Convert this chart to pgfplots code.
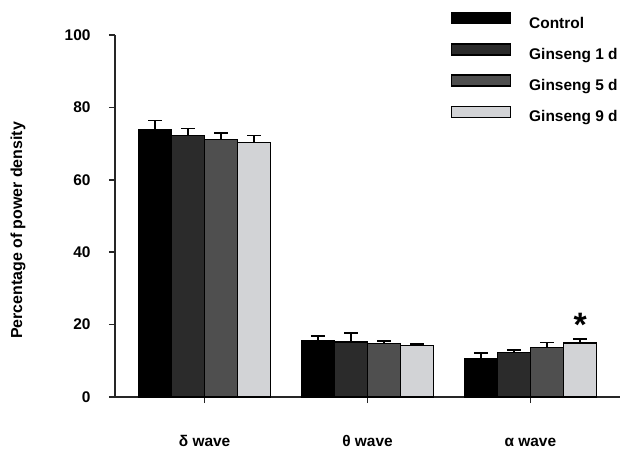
\documentclass[border=0pt]{standalone}
\usepackage{fontspec}
\setmainfont{Liberation Sans}
\usepackage{pgfplots}
\pgfplotsset{compat=1.18}
\definecolor{cA}{HTML}{000000}
\definecolor{cB}{HTML}{2B2B2B}
\definecolor{cC}{HTML}{4F4F4F}
\definecolor{cD}{HTML}{D2D3D6}
\newcommand{\bigf}{\fontsize{15.5}{18}\selectfont\bfseries}
\begin{document}
\begin{tikzpicture}
\begin{axis}[
 scale only axis, width=505bp, height=362bp,
 xmin=-0.55, xmax=2.55, ymin=0, ymax=100,
 axis x line=bottom, axis y line=left,
 axis line style={-, line width=1.5bp, black!85},
 ybar=0pt, bar width=33bp,
 xtick={0,1,2}, xticklabels={δ wave, θ wave, α wave},
 ytick={0,20,...,100},
 tick align=outside, major tick length=6bp,
 tick style={line width=1.5bp, black!85},
 tick label style={font=\bigf},
 label style={font=\fontsize{16}{18}\selectfont\bfseries},
 /pgf/number format/assume math mode=true,
 ylabel={Percentage of power density},
 ylabel style={at={(axis description cs:-0.192,0.46)}, anchor=center},
 xticklabel style={yshift=-28bp, text height=12bp, text depth=3bp},
 yticklabel style={xshift=-15bp},
 legend style={at={(rel axis cs:0.665,1.0635)}, anchor=north west, draw=none, fill=none, inner sep=0pt, row sep=12bp,
   font=\bigf,
   nodes={text height=12bp, text depth=3bp, inner sep=0pt},
   /tikz/every odd column/.append style={column sep=18bp}},
 legend cell align=left,
 legend image code/.code={\draw[#1,/tikz/.cd] (0bp,0bp) rectangle (59bp,11bp);},
 error bars/y dir=plus, error bars/y explicit,
 error bars/error bar style={line width=1.5bp, black},
 error bars/error mark options={rotate=90, mark size=7bp, line width=1.5bp, black},
 clip=false,
]
\addplot[fill=cA, draw=black, line width=1.2bp] coordinates {(0,73.9) +- (0,2.5) (1,15.6) +- (0,1.3) (2,10.5) +- (0,1.6)};
\addplot[fill=cB, draw=black, line width=1.2bp] coordinates {(0,72.2) +- (0,2.0) (1,15.2) +- (0,2.5) (2,12.4) +- (0,0.6)};
\addplot[fill=cC, draw=black, line width=1.2bp] coordinates {(0,71.2) +- (0,1.7) (1,14.7) +- (0,0.8) (2,13.6) +- (0,1.5)};
\addplot[fill=cD, draw=black, line width=1.2bp] coordinates {(0,70.3) +- (0,1.9) (1,14.3) +- (0,0.4) (2,14.9) +- (0,1.1)};
\legend{Control, Ginseng 1 d, Ginseng 5 d, Ginseng 9 d}
\node[font=\fontsize{34}{34}\selectfont\bfseries] at (axis cs:2.305,20) {*};
\coordinate (O) at (rel axis cs:0,0);
\end{axis}
\pgfresetboundingbox
\path[use as bounding box] ([xshift=-115bp,yshift=-57bp]O) rectangle ([xshift=520bp,yshift=397bp]O);
\end{tikzpicture}
\end{document}
